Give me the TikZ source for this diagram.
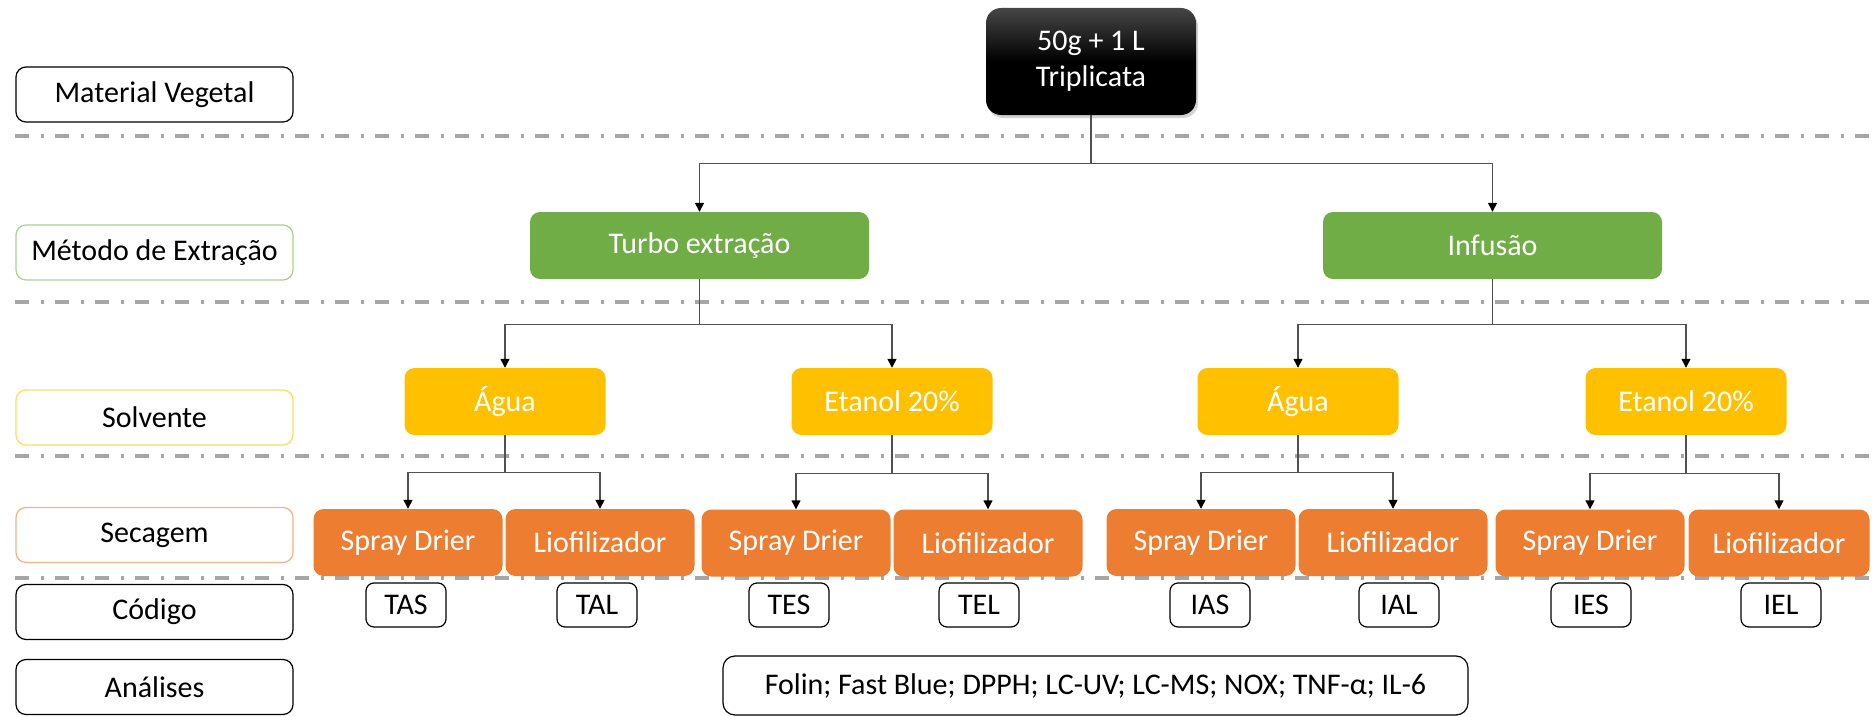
\documentclass[tikz,border=0pt]{standalone}
\usepackage{fontspec}
\setmainfont{Carlito}
\usetikzlibrary{arrows.meta,shadows}
\definecolor{cgreen}{HTML}{70AD47}
\definecolor{cyellow}{HTML}{FFC000}
\definecolor{corange}{HTML}{ED7D31}
\definecolor{lgreen}{HTML}{A9D18E}
\definecolor{lyellow}{HTML}{FFD966}
\definecolor{lorange}{HTML}{F4B183}
\definecolor{dashgray}{HTML}{A6A6A6}
\definecolor{linegray}{HTML}{505050}
\begin{document}
\begin{tikzpicture}[x=1pt,y=-1pt,
  every node/.style={font=\fontsize{30}{36}\selectfont, inner sep=0pt},
  labelbox/.style={draw=black, line width=1.2pt, rounded corners=10pt, fill=white, minimum width=277pt, minimum height=55pt},
  greenbox/.style={fill=cgreen, text=white, rounded corners=10pt, minimum width=339pt, minimum height=67pt},
  yellowbox/.style={fill=cyellow, text=white, rounded corners=10pt, minimum width=201pt, minimum height=67pt},
  orangebox/.style={fill=corange, text=white, rounded corners=10pt, minimum width=189pt, minimum height=67pt},
  codebox/.style={draw=black, line width=1.2pt, rounded corners=8pt, fill=white, minimum width=80pt, minimum height=44pt},
  sepline/.style={draw=dashgray, line width=3.5pt, dash pattern=on 14pt off 12pt on 3pt off 11pt},
  conn/.style={draw=linegray, line width=1.4pt, -{Triangle[length=9pt,width=9pt,fill=black,color=black]}}
]
\useasboundingbox (0,0) rectangle (1872,717);
% separators
\draw[sepline] (15,136) -- (1872,136);
\draw[sepline] (15,302) -- (1872,302);
\draw[sepline] (15,456) -- (1872,456);
\draw[sepline] (15,578) -- (1872,578);

% left labels
\node[labelbox] (lab1) at (154.5,94.5) {Material Vegetal};
\node[labelbox, draw=lgreen] (lab2) at (154.5,252.5) {Método de Extração};
\node[labelbox, draw=lyellow] (lab3) at (154.5,417.5) {Solvente};
\node[labelbox, draw=lorange] (lab4) at (154.5,535) {Secagem};
\node[labelbox] (lab5) at (154.5,612) {Código};
\node[labelbox] (lab6) at (154.5,687) {Análises};

% top box
\node[rounded corners=15pt, minimum width=210pt, minimum height=107pt, text=white,
      top color={rgb,255:red,70;green,70;blue,70}, bottom color=black, middle color=black,
      drop shadow={opacity=0.35, shadow xshift=2pt, shadow yshift=-3pt},
      align=center] (top) at (1091,61.5) {50g + 1 L\\[0pt]Triplicata};

% extraction methods
\node[greenbox] (turbo) at (699.5,245.5) {Turbo extração};
\node[greenbox] (infusao) at (1492.5,245.5) {Infusão};

% solvents
\node[yellowbox] (agua1) at (505,401.5) {Água};
\node[yellowbox] (etanol1) at (892,401.5) {Etanol 20\%};
\node[yellowbox] (agua2) at (1298,401.5) {Água};
\node[yellowbox] (etanol2) at (1686,401.5) {Etanol 20\%};

% drying
\node[orangebox] (sd1) at (408,542.5) {Spray Drier};
\node[orangebox] (lio1) at (600,542.5) {Liofilizador};
\node[orangebox] (sd2) at (796,543) {Spray Drier};
\node[orangebox] (lio2) at (988,543) {Liofilizador};
\node[orangebox] (sd3) at (1201,542.5) {Spray Drier};
\node[orangebox] (lio3) at (1393,542.5) {Liofilizador};
\node[orangebox] (sd4) at (1590,543) {Spray Drier};
\node[orangebox, minimum width=181pt] (lio4) at (1779,543) {Liofilizador};

% codes
\node[codebox] (tas) at (406,605) {TAS};
\node[codebox] (tal) at (597,605) {TAL};
\node[codebox] (tes) at (789,605) {TES};
\node[codebox] (tel) at (979,605) {TEL};
\node[codebox] (ias) at (1210,605) {IAS};
\node[codebox] (ial) at (1399,605) {IAL};
\node[codebox] (ies) at (1591,605) {IES};
\node[codebox] (iel) at (1781,605) {IEL};

% analyses
\node[draw=black, line width=1.2pt, rounded corners=12pt, fill=white, minimum width=745pt, minimum height=59pt] (anal) at (1095.5,685.5) {Folin; Fast Blue; DPPH; LC-UV; LC-MS; NOX; TNF-α; IL-6};

% connectors
\draw[conn] (top.south) -- ++(0,48) -| (turbo.north);
\draw[conn] (top.south) -- ++(0,48) -| (infusao.north);
\draw[conn] (turbo.south) -- ++(0,45) -| (agua1.north);
\draw[conn] (turbo.south) -- ++(0,45) -| (etanol1.north);
\draw[conn] (infusao.south) -- ++(0,45) -| (agua2.north);
\draw[conn] (infusao.south) -- ++(0,45) -| (etanol2.north);
\draw[conn] (agua1.south) -- ++(0,37) -| (sd1.north);
\draw[conn] (agua1.south) -- ++(0,37) -| (lio1.north);
\draw[conn] (etanol1.south) -- ++(0,38) -| (sd2.north);
\draw[conn] (etanol1.south) -- ++(0,38) -| (lio2.north);
\draw[conn] (agua2.south) -- ++(0,37) -| (sd3.north);
\draw[conn] (agua2.south) -- ++(0,37) -| (lio3.north);
\draw[conn] (etanol2.south) -- ++(0,38) -| (sd4.north);
\draw[conn] (etanol2.south) -- ++(0,38) -| (lio4.north);
\end{tikzpicture}
\end{document}
